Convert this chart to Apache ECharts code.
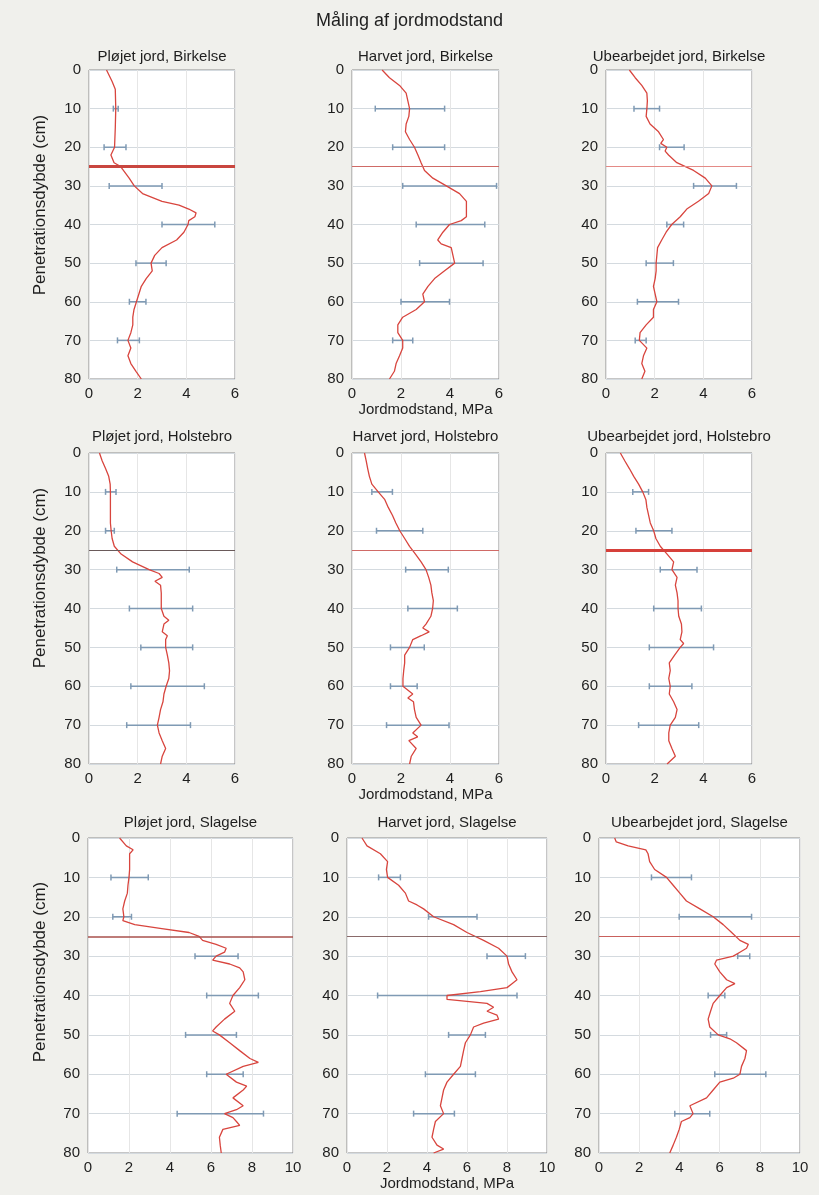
<!DOCTYPE html>
<html>
<head>
<meta charset="UTF-8">
<title>Måling af jordmodstand</title>
<script src="https://cdn.jsdelivr.net/npm/echarts@6/dist/echarts.min.js"></script>
<style>
body{margin:0;background:#f0f0ec;}
#chart{width:819px;height:1195px;}
</style>
</head>
<body>
<div id="chart"></div>
<script>
// dybder for fejllinjer og pløjesål
var errDepth = [10, 20, 30, 40, 50, 60, 70];
var refDepth = 25;

// Pløjet jord, Birkelse
var p1Depth = [0,3,5,10,15,20,22,24,25,28,30,32,34,35,36,37,38,39,40,42,44,46,48,50,52,54,56,58,60,62,64,66,68,70,72,74,76,78,80];
var p1Mpa = [0.72,0.95,1.08,1.1,1.08,1.05,0.9,1.03,1.3,1.65,1.86,2.2,3.0,3.7,4.1,4.4,4.35,4.1,4.07,3.9,3.6,3.0,2.7,2.55,2.6,2.35,2.15,2.05,1.95,1.85,1.8,1.8,1.72,1.6,1.72,1.6,1.72,1.93,2.15];
var p1Lo = [1.0,0.62,0.83,3.0,1.93,1.66,1.17];
var p1Hi = [1.2,1.52,3.0,5.17,3.17,2.34,2.07];

// Harvet jord, Birkelse
var p2Depth = [0,2,4,6,8,10,12,14,16,18,20,22,24,26,28,30,32,34,36,38,39,40,42,44,45,46,48,50,52,54,56,58,60,62,64,66,68,70,72,74,76,78,80];
var p2Mpa = [1.23,1.53,1.94,2.21,2.28,2.35,2.32,2.21,2.18,2.35,2.55,2.69,2.82,2.96,3.3,3.85,4.39,4.67,4.67,4.67,4.46,3.98,3.71,3.5,3.64,4.05,4.12,4.19,3.78,3.37,3.1,2.89,2.96,2.62,2.07,1.87,1.87,2.07,2.07,1.94,1.8,1.73,1.53];
var p2Lo = [0.95,1.66,2.07,2.62,2.76,2.0,1.66];
var p2Hi = [3.78,3.78,5.9,5.42,5.35,3.98,2.48];

// Ubearbejdet jord, Birkelse
var p3Depth = [0,2,4,6,8,10,12,14,16,18,19,20,21,22,24,26,28,30,32,34,36,38,40,42,44,46,48,50,52,54,56,58,60,62,64,66,68,70,72,74,76,78,80];
var p3Mpa = [0.96,1.2,1.47,1.68,1.7,1.68,1.65,1.81,2.16,2.36,2.25,2.5,2.43,2.57,2.91,3.6,4.08,4.35,4.22,3.8,3.32,3.05,2.7,2.47,2.29,2.12,2.09,2.06,2.06,2.02,1.95,2.02,2.09,1.95,1.95,1.65,1.4,1.37,1.68,1.54,1.47,1.6,1.47];
var p3Lo = [1.15,2.2,3.6,2.5,1.65,1.29,1.2];
var p3Hi = [2.2,3.21,5.36,3.19,2.77,2.98,1.65];

// Pløjet jord, Holstebro
var p4Depth = [0,2,4,6,8,10,12,14,16,18,20,22,24,26,28,30,31,32,33,34,36,38,40,42,43,44,46,47,48,50,52,54,56,58,60,62,64,66,68,70,72,74,76,78,80];
var p4Mpa = [0.43,0.54,0.68,0.81,0.87,0.88,0.88,0.88,0.88,0.88,0.91,0.95,1.04,1.32,1.79,2.47,2.88,3.01,2.71,2.94,2.97,2.97,2.97,3.08,3.28,3.08,3.01,3.22,3.15,3.15,3.22,3.28,3.31,3.28,3.17,3.08,3.04,2.94,2.88,2.81,2.88,3.01,3.15,3.01,2.94];
var p4Lo = [0.68,0.68,1.14,1.66,2.13,1.72,1.55];
var p4Hi = [1.11,1.04,4.12,4.26,4.26,4.74,4.17];

// Harvet jord, Holstebro
var p5Depth = [0,2,4,6,8,10,12,14,16,18,20,22,24,26,28,30,32,34,36,38,40,42,44,45,46,47,48,50,52,54,56,58,60,62,63,64,66,68,70,72,73,74,76,78,80];
var p5Mpa = [0.51,0.58,0.64,0.71,0.81,1.07,1.34,1.48,1.65,1.79,1.95,2.15,2.35,2.59,2.82,3.02,3.13,3.22,3.26,3.32,3.29,3.22,3.02,2.89,3.15,2.82,2.48,2.35,2.15,2.15,2.11,2.08,2.08,2.48,2.28,2.51,2.55,2.62,2.82,2.48,2.68,2.32,2.62,2.42,2.35];
var p5Lo = [0.81,1.0,2.19,2.28,1.57,1.57,1.41];
var p5Hi = [1.65,2.89,3.93,4.3,2.95,2.66,3.96];

// Ubearbejdet jord, Holstebro
var p6Depth = [0,2,4,6,8,10,12,14,16,18,20,22,24,26,28,30,32,34,36,38,40,42,44,46,48,49,50,52,54,56,58,60,62,64,66,68,70,72,74,76,78,80];
var p6Mpa = [0.59,0.77,0.96,1.14,1.34,1.51,1.64,1.68,1.75,1.82,1.96,2.05,2.23,2.51,2.78,2.71,2.92,2.85,2.92,2.96,2.96,2.99,3.1,3.12,3.05,3.19,3.05,2.82,2.6,2.64,2.58,2.64,2.6,2.78,2.92,2.85,2.64,2.58,2.58,2.71,2.85,2.51];
var p6Lo = [1.1,1.23,2.23,1.96,1.78,1.78,1.34];
var p6Hi = [1.75,2.71,3.74,3.92,4.42,3.53,3.81];

// Pløjet jord, Slagelse
var p7Depth = [0,2,3,4,6,8,10,12,14,16,18,20,21,22,23,24,25,26,27,28,29,30,31,32,33,34,36,38,40,42,44,46,48,49,50,52,54,56,57,58,60,62,63,64,66,68,69,70,71,72,73,74,76,78,80];
var p7Mpa = [1.54,1.87,2.2,2.03,2.03,2.03,2.0,1.95,1.92,1.79,1.7,1.75,1.7,2.28,3.6,4.93,5.42,5.59,6.25,6.74,6.66,6.25,6.08,6.91,7.4,7.57,7.65,7.4,7.07,6.91,7.16,6.66,6.25,6.08,6.41,6.91,7.4,7.9,8.31,7.57,6.74,7.24,7.74,7.57,7.07,7.57,7.24,6.66,7.07,7.24,7.4,6.58,6.41,6.45,6.5];
var p7Lo = [1.12,1.21,5.22,5.79,4.76,5.79,4.35];
var p7Hi = [2.94,2.12,7.32,8.31,7.24,7.57,8.56];

// Harvet jord, Slagelse
var p8Depth = [0,2,4,6,8,10,12,14,16,17,18,20,22,24,26,28,30,32,34,36,37,38,39,40,41,42,43,44,45,46,47,48,50,52,54,56,58,60,62,64,66,68,70,72,74,76,78,79,80];
var p8Mpa = [0.75,1.0,1.67,2.03,1.97,2.03,2.58,2.92,3.08,3.5,3.83,4.33,5.33,6.0,6.83,7.58,8.0,8.08,8.25,8.5,8.25,8.0,6.67,5.0,5.0,7.0,7.33,7.0,7.5,7.58,6.83,6.33,6.17,5.92,5.83,5.75,5.67,5.33,5.0,4.83,4.75,4.67,4.83,4.42,4.33,4.25,4.5,4.83,4.33];
var p8Lo = [1.58,4.08,7.0,1.53,5.08,3.92,3.33];
var p8Hi = [2.67,6.5,8.92,8.5,6.92,6.42,5.37];

// Ubearbejdet jord, Slagelse
var p9Depth = [0,1,2,3,4,6,8,10,12,14,16,18,20,22,24,26,27,28,29,30,31,32,34,36,37,38,40,42,44,46,48,50,51,52,54,56,58,60,61,62,64,66,68,70,71,72,74,76,78,80];
var p9Mpa = [0.78,0.86,1.45,2.33,2.44,2.52,2.77,3.36,3.69,4.02,4.35,5.02,5.68,6.18,6.6,7.01,7.43,7.34,7.01,6.68,5.85,5.76,6.01,6.35,6.76,6.35,6.01,5.68,5.55,5.43,5.51,5.93,6.51,6.84,7.34,7.26,7.09,7.01,6.68,6.01,5.68,5.35,4.52,4.68,4.52,4.1,3.99,3.85,3.69,3.52];
var p9Lo = [2.61,3.99,6.9,5.43,5.55,5.76,3.77];
var p9Hi = [4.6,7.59,7.5,6.26,6.35,8.3,5.51];

var yTicks = [0, 80, 10];
var xMaxRow = [6, 6, 10];

var panels = [
	{name:'Pløjet jord, Birkelse', depth:p1Depth, mpa:p1Mpa, lo:p1Lo, hi:p1Hi},
	{name:'Harvet jord, Birkelse', depth:p2Depth, mpa:p2Mpa, lo:p2Lo, hi:p2Hi},
	{name:'Ubearbejdet jord, Birkelse', depth:p3Depth, mpa:p3Mpa, lo:p3Lo, hi:p3Hi},
	{name:'Pløjet jord, Holstebro', depth:p4Depth, mpa:p4Mpa, lo:p4Lo, hi:p4Hi},
	{name:'Harvet jord, Holstebro', depth:p5Depth, mpa:p5Mpa, lo:p5Lo, hi:p5Hi},
	{name:'Ubearbejdet jord, Holstebro', depth:p6Depth, mpa:p6Mpa, lo:p6Lo, hi:p6Hi},
	{name:'Pløjet jord, Slagelse', depth:p7Depth, mpa:p7Mpa, lo:p7Lo, hi:p7Hi},
	{name:'Harvet jord, Slagelse', depth:p8Depth, mpa:p8Mpa, lo:p8Lo, hi:p8Hi},
	{name:'Ubearbejdet jord, Slagelse', depth:p9Depth, mpa:p9Mpa, lo:p9Lo, hi:p9Hi}
];

// placering af plotområderne (px)
var rowTop = [70, 453, 838];
var rowH = [309, 311, 315];
var colLeft = [[89,352,606],[89,352,606],[88,347,599]];
var colW = [[146,147,146],[146,147,146],[205,200,201]];
var subTop = [49, 429, 815];
var yNameY = [205, 578, 972];

// 25 cm linjen ser forskellig ud i hvert panel
var refColor = ['#c9463f','#cf6a66','#e48a86','#6a5a5a','#d06a66','#d6403a','#a8504c','#8a6a6a','#c9605c'];
var refWidth = [3, 1, 1, 1, 1, 3, 1.5, 1, 1];

var font = "'Liberation Sans', Arial, sans-serif";
var txt = '#1e1e1e';

function renderErr(params, api){
	var a = api.coord([api.value(0), api.value(2)]);
	var b = api.coord([api.value(1), api.value(2)]);
	var st = {stroke:'#7f9ab4', lineWidth:1.5};
	return {type:'group', children:[
		{type:'line', shape:{x1:a[0], y1:a[1], x2:b[0], y2:b[1]}, style:st},
		{type:'line', shape:{x1:a[0], y1:a[1]-3, x2:a[0], y2:a[1]+3}, style:st},
		{type:'line', shape:{x1:b[0], y1:b[1]-3, x2:b[0], y2:b[1]+3}, style:st}
	]};
}

var grids = [], xAxes = [], yAxes = [], series = [], titles = [], graphics = [];

titles.push({
	text:'Måling af jordmodstand', left:'center', top:12, padding:0,
	textStyle:{fontSize:18, fontWeight:'normal', color:txt, fontFamily:font}
});

for (var i=0; i<panels.length; i++){
	var r = Math.floor(i/3), c = i%3;
	var p = panels[i];
	grids.push({
		left:colLeft[r][c], top:rowTop[r], width:colW[r][c], height:rowH[r],
		show:true, backgroundColor:'#ffffff', borderColor:'#8c8c8c', borderWidth:1
	});
	titles.push({
		text:p.name, left:colLeft[r][c] + colW[r][c]/2, top:subTop[r], textAlign:'center', padding:0,
		textStyle:{fontSize:15, fontWeight:'normal', color:txt, fontFamily:font}
	});
	var xa = {
		type:'value', gridIndex:i, min:0, max:xMaxRow[r], interval:2,
		axisLine:{show:false}, axisTick:{show:false},
		axisLabel:{fontSize:15, color:txt, margin:7, fontFamily:font},
		splitLine:{lineStyle:{color:'#e6e6e6', width:1}}
	};
	if (c == 1){
		xa.name = 'Jordmodstand, MPa';
		xa.nameLocation = 'middle';
		xa.nameGap = 23;
		xa.nameTextStyle = {fontSize:15, color:txt, fontFamily:font};
	}
	xAxes.push(xa);
	yAxes.push({
		type:'value', gridIndex:i, inverse:true, min:yTicks[0], max:yTicks[1], interval:yTicks[2],
		axisLine:{show:false}, axisTick:{show:false},
		axisLabel:{fontSize:15, color:txt, margin:8, fontFamily:font},
		splitLine:{lineStyle:{color:'#d4dadf', width:1}}
	});

	var pts = [];
	for (var k=0; k<p.depth.length; k++) pts.push([p.mpa[k], p.depth[k]]);
	var errs = [];
	for (var k=0; k<errDepth.length; k++) errs.push([p.lo[k], p.hi[k], errDepth[k]]);

	series.push({
		type:'custom', xAxisIndex:i, yAxisIndex:i, z:2,
		renderItem:renderErr, encode:{x:[0,1], y:2}, data:errs, silent:true
	});
	series.push({
		type:'line', xAxisIndex:i, yAxisIndex:i, z:3, data:pts,
		showSymbol:false, symbol:'none', silent:true,
		lineStyle:{color:'#d8453e', width:1.3},
		markLine:{
			silent:true, symbol:'none', label:{show:false}, animation:false,
			lineStyle:{color:refColor[i], width:refWidth[i], type:'solid'},
			data:[{yAxis:refDepth}]
		}
	});
}

for (var r=0; r<3; r++){
	graphics.push({
		type:'text', x:40, y:yNameY[r], rotation:Math.PI/2,
		style:{text:'Penetrationsdybde (cm)', fontSize:17, fill:txt, fontFamily:font, align:'center', verticalAlign:'middle'}
	});
}

var chart = echarts.init(document.getElementById('chart'));
chart.setOption({
	backgroundColor:'#f0f0ec',
	animation:false,
	textStyle:{fontFamily:font},
	title:titles,
	grid:grids,
	xAxis:xAxes,
	yAxis:yAxes,
	graphic:graphics,
	series:series
});
</script>
</body>
</html>
